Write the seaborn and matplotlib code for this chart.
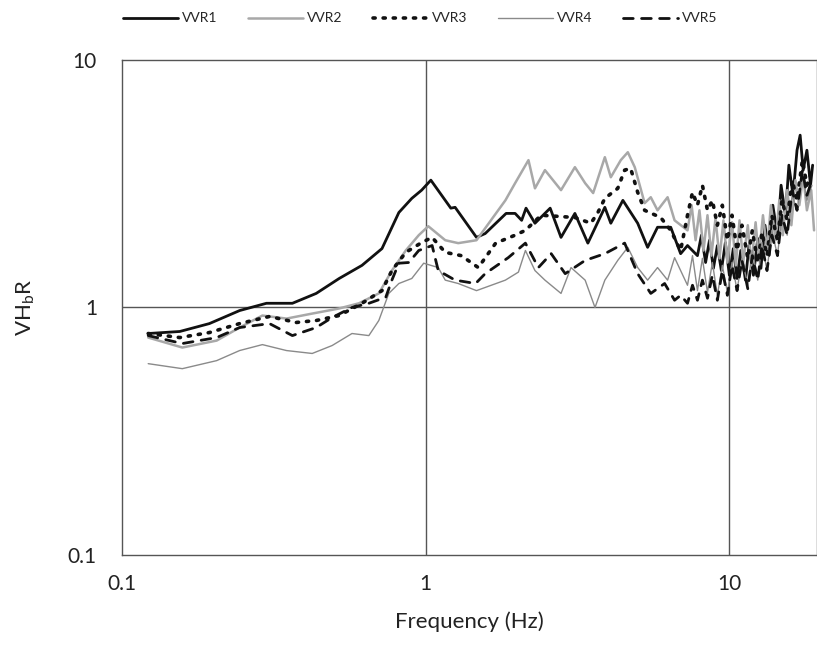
import numpy as np
import pandas as pd
import matplotlib.pyplot as plt
import seaborn as sns

# --- data (frequency in Hz, VHbR ratio) ---
f1 = [0.122, 0.155, 0.194, 0.244, 0.299, 0.364, 0.436, 0.519, 0.617, 0.718, 0.816, 0.900, 0.970, 1.04,
      1.21, 1.25, 1.47, 1.57, 1.84, 1.97, 2.07, 2.14, 2.29, 2.57, 2.79, 3.10, 3.42, 3.89, 4.07, 4.46,
      4.99, 5.38, 5.80, 6.41, 6.91, 7.28,
      7.85, 8.09, 8.35, 8.60, 8.86, 9.13, 9.41, 9.70, 10.0, 10.3, 10.6, 10.9, 11.3, 11.6, 12.0, 12.4,
      12.7, 13.1, 13.5, 13.9, 14.4, 14.8, 15.3, 15.7, 16.2, 16.7, 17.1, 17.5, 18.0, 18.5, 18.8]
v1 = [0.785, 0.80, 0.861, 0.972, 1.04, 1.04, 1.14, 1.31, 1.48, 1.73, 2.42, 2.76, 2.98, 3.27,
      2.52, 2.54, 1.92, 1.99, 2.40, 2.40, 2.25, 2.52, 2.19, 2.52, 1.92, 2.40, 1.82, 2.54, 2.19, 2.71,
      2.19, 1.75, 2.11, 2.11, 1.65, 1.78,
      1.62, 1.96, 1.52, 1.87, 1.44, 1.78, 1.41, 1.83, 1.35, 1.73, 1.31, 1.70, 1.29, 1.78, 1.35, 1.90,
      1.44, 2.15, 1.62, 2.59, 1.96, 3.12, 2.36, 3.76, 2.84, 4.32, 4.97, 3.59, 4.32, 3.12, 3.76]

f2 = [0.122, 0.158, 0.205, 0.244, 0.290, 0.348, 0.423, 0.519, 0.603, 0.701, 0.774, 0.860, 0.949, 1.02,
      1.16, 1.28, 1.47, 1.83, 1.97, 2.18, 2.29, 2.47, 2.79, 3.10, 3.35, 3.56, 3.89, 4.07, 4.39, 4.63,
      4.88, 5.26, 5.51, 5.80, 6.26, 6.60,
      7.28, 7.51, 7.74, 7.97, 8.22, 8.47, 8.73, 9.00, 9.28, 9.56, 9.85, 10.2, 10.5, 10.8, 11.1, 11.5,
      11.8, 12.2, 12.5, 12.9, 13.3, 13.7, 14.2, 14.6, 15.0, 15.5, 16.0, 16.5, 17.0, 17.5, 18.0, 18.6, 19.0]
v2 = [0.756, 0.689, 0.735, 0.830, 0.928, 0.902, 0.945, 0.991, 1.04, 1.14, 1.41, 1.70, 1.96, 2.13,
      1.87, 1.82, 1.87, 2.71, 3.18, 3.94, 3.03, 3.59, 2.98, 3.69, 3.18, 2.90, 4.05, 3.36, 3.94, 4.24,
      3.69, 2.64, 2.79, 2.47, 2.79, 2.25,
      2.05, 2.59, 1.87, 2.47, 1.70, 2.36, 1.62, 2.29, 1.58, 2.25, 1.52, 2.21, 1.48, 2.25, 1.52, 2.15,
      1.48, 2.21, 1.58, 2.36, 1.70, 2.59, 1.87, 2.71, 1.96, 2.98, 2.15, 3.27, 2.59, 3.42, 2.47, 2.98, 2.05]

f3 = [0.122, 0.155, 0.194, 0.244, 0.306, 0.375, 0.436, 0.519, 0.617, 0.718, 0.774, 0.860, 0.970, 1.05,
      1.16, 1.31, 1.49, 1.70, 1.97, 2.13, 2.40, 3.10, 3.50, 3.69, 3.89, 4.29, 4.52, 4.73, 4.99, 5.26,
      5.94, 6.41, 6.91,
      7.28, 7.56, 7.85, 8.15, 8.47, 8.79, 9.13, 9.48, 9.85, 10.2, 10.6, 11.0, 11.5, 11.9, 12.4, 12.8,
      13.3, 13.8, 14.4, 14.9, 15.5, 16.1, 16.7, 17.4, 18.0, 18.7]
v3 = [0.785, 0.756, 0.792, 0.861, 0.920, 0.870, 0.886, 0.928, 1.04, 1.17, 1.41, 1.67, 1.83, 1.92,
      1.67, 1.62, 1.45, 1.82, 1.96, 2.05, 2.36, 2.31, 2.19, 2.42, 2.76, 3.03, 3.59, 3.65, 2.92, 2.47,
      2.31, 2.05, 1.70,
      2.36, 2.92, 2.59, 3.12, 2.47, 2.71, 2.15, 2.59, 1.87, 2.36, 1.70, 2.15, 1.58, 2.05, 1.52, 2.01,
      1.62, 2.36, 1.87, 2.71, 2.25, 3.27, 2.71, 3.94, 3.12, 3.59]

f4 = [0.122, 0.158, 0.205, 0.244, 0.290, 0.348, 0.423, 0.492, 0.572, 0.650, 0.701, 0.756, 0.816, 0.900,
      0.985, 1.10, 1.16, 1.28, 1.47, 1.83, 2.02, 2.13, 2.29, 2.47, 2.79, 3.01, 3.35, 3.61, 3.89, 4.29,
      4.63, 4.99, 5.38, 5.80, 6.26, 6.60,
      7.28, 7.56, 7.85, 8.15, 8.47, 8.79, 9.13, 9.48, 9.85, 10.2, 10.6, 11.0, 11.5, 11.9, 12.4, 12.8,
      13.3, 13.8, 14.4, 14.9, 15.5, 16.1, 16.7, 17.4, 18.0, 18.7]
v4 = [0.593, 0.566, 0.610, 0.670, 0.708, 0.670, 0.652, 0.702, 0.785, 0.770, 0.886, 1.14, 1.25, 1.31,
      1.51, 1.45, 1.29, 1.25, 1.17, 1.29, 1.39, 1.70, 1.41, 1.29, 1.14, 1.45, 1.29, 1.00, 1.29, 1.55,
      1.75, 1.45, 1.29, 1.45, 1.29, 1.59,
      1.23, 1.62, 1.17, 1.58, 1.15, 1.52, 1.12, 1.48, 1.15, 1.52, 1.17, 1.58, 1.23, 1.70, 1.29, 1.83,
      1.41, 2.05, 1.62, 2.36, 1.96, 2.84, 2.47, 3.42, 2.71, 3.12]

f5 = [0.122, 0.158, 0.205, 0.244, 0.306, 0.364, 0.436, 0.492, 0.572, 0.650, 0.739, 0.774, 0.816, 0.880,
      0.949, 1.05, 1.10, 1.25, 1.46, 1.57, 1.87, 2.13, 2.35, 2.59, 2.88, 3.35, 3.89, 4.52, 4.99, 5.51,
      6.12, 6.60, 6.91,
      7.28, 7.56, 7.85, 8.15, 8.47, 8.79, 9.13, 9.48, 9.85, 10.2, 10.6, 11.0, 11.5, 11.9, 12.4, 12.8,
      13.3, 13.8, 14.4, 14.9, 15.5, 16.1, 16.7, 17.4, 18.0, 18.7]
v5 = [0.770, 0.715, 0.756, 0.830, 0.861, 0.770, 0.830, 0.911, 1.00, 1.04, 1.10, 1.29, 1.51, 1.52,
      1.70, 1.78, 1.41, 1.29, 1.25, 1.37, 1.59, 1.82, 1.45, 1.65, 1.37, 1.55, 1.65, 1.82, 1.37, 1.14,
      1.25, 1.07, 1.12,
      1.04, 1.23, 1.07, 1.29, 1.09, 1.35, 1.07, 1.41, 1.12, 1.48, 1.17, 1.55, 1.19, 1.62, 1.29, 1.78,
      1.41, 1.96, 1.62, 2.36, 1.96, 2.98, 2.47, 3.59, 2.84, 3.27]

names = ['VVR1', 'VVR2', 'VVR3', 'VVR4', 'VVR5']
freqs = [f1, f2, f3, f4, f5]
vals = [v1, v2, v3, v4, v5]

styles = {
    'VVR1': dict(color='#111111', lw=2.0, ls='-'),
    'VVR2': dict(color='#a8a8a8', lw=1.8, ls='-'),
    'VVR3': dict(color='#111111', lw=2.6, ls=(0, (0.6, 2.2))),
    'VVR4': dict(color='#8a8a8a', lw=1.0, ls='-'),
    'VVR5': dict(color='#111111', lw=2.0, ls=(0, (3.5, 3))),
}

sns.set_style('white')
plt.rcParams['font.family'] = ['Lato', 'DejaVu Sans']

fig = plt.figure(figsize=(8.17, 6.51), dpi=100)
ax = fig.add_axes([0.1493, 0.1475, 0.8507, 0.7603])

for name, f, v in zip(names, freqs, vals):
    df = pd.DataFrame({'f': f, 'v': v})
    st = styles[name]
    sns.lineplot(data=df, x='f', y='v', ax=ax, color=st['color'], linewidth=st['lw'],
                 linestyle=st['ls'], label=name, solid_capstyle='round', dash_capstyle='round')

ax.set_xscale('log')
ax.set_yscale('log')
ax.set_xlim(0.1, 10 ** 1.2885)
ax.set_ylim(0.1, 10)
ax.set_xticks([0.1, 1, 10])
ax.set_xticklabels(['0.1', '1', '10'])
ax.set_yticks([0.1, 1, 10])
ax.set_yticklabels(['0.1', '1', '10'])
ax.minorticks_off()
ax.tick_params(axis='both', length=0, labelsize=15, colors='#222222')
ax.tick_params(axis='x', pad=14)
ax.tick_params(axis='y', pad=18)
for x in [1, 10]:
    ax.axvline(x, color='#555555', lw=1.0, zorder=0)
ax.axhline(1, color='#555555', lw=1.0, zorder=0)
for s in ax.spines.values():
    s.set_color('#555555')
    s.set_linewidth(1.0)

ax.set_xlabel('Frequency (Hz)', fontsize=16, labelpad=12, color='#222222')
ax.set_ylabel('VH$_\\mathregular{b}$R', fontsize=16, labelpad=22, color='#222222')

ax.get_legend().remove()
handles, labels = ax.get_legend_handles_labels()
fig.legend(handles, labels, loc='upper center', bbox_to_anchor=(0.514, 1.0), ncol=5,
           frameon=False, fontsize=10, handlelength=4.0, columnspacing=2.2, handletextpad=0.25)

plt.savefig('out.png', dpi=100)
